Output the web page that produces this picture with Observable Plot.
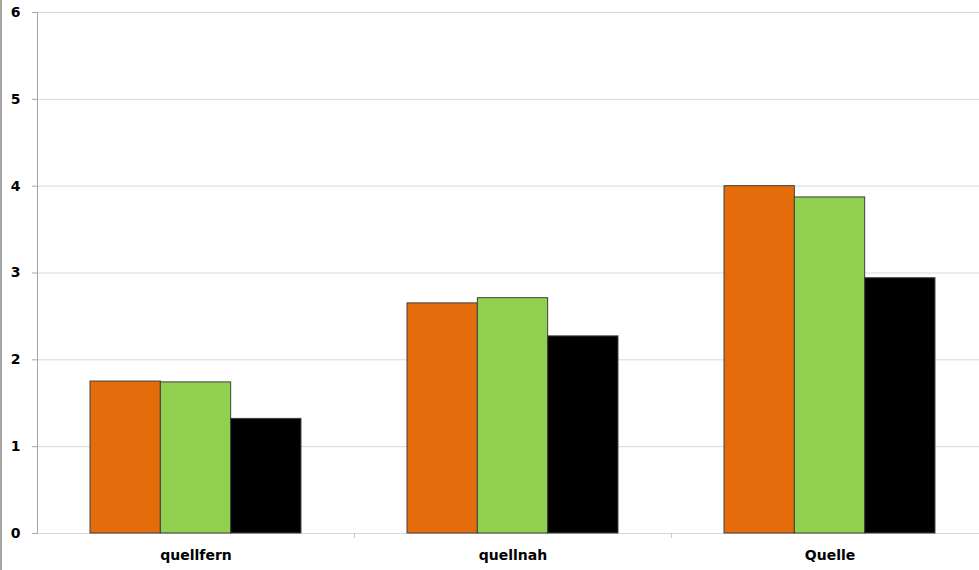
<!DOCTYPE html>
<html>
<head>
<meta charset="utf-8">
<script src="https://cdn.jsdelivr.net/npm/d3@7"></script>
<script src="https://cdn.jsdelivr.net/npm/@observablehq/plot@0.6"></script>
<style>
  html, body { margin: 0; padding: 0; background: #fff; overflow: hidden; }
  #chart { width: 977px; height: 570px; border-left: 2px solid #a6a6a6; overflow: hidden; }
  #chart svg { overflow: hidden; }
</style>
</head>
<body>
<div id="chart"></div>
<script>
// Groups along the x axis
const categories = ["quellfern", "quellnah", "Quelle"];
// Three series per group, drawn orange / green / black
const seriesKeys = ["A", "B", "C"];
const seriesColors = ["#E46C0A", "#92D050", "#000000"];
const valuesA = [1.75, 2.65, 4.00];
const valuesB = [1.74, 2.71, 3.87];
const valuesC = [1.32, 2.27, 2.94];
const yTicks = [0, 1, 2, 3, 4, 5, 6];

const seriesValues = [valuesA, valuesB, valuesC];
const data = categories.flatMap((category, i) =>
  seriesKeys.map((series, s) => ({category, series, value: seriesValues[s][i]}))
);

// Layout
const width = 977, height = 570;
const marginLeft = 35, marginTop = 12, marginBottom = 37;
const groupStep = 317; // width of one category band; the last band runs past the right edge
const fxRange = [marginLeft, marginLeft + groupStep * categories.length];
const font = "'DejaVu Sans', sans-serif";

const chart = Plot.plot({
  width, height,
  marginLeft, marginRight: 0, marginTop, marginBottom,
  style: {fontFamily: font, fontSize: "14px", fontWeight: 700, color: "#000", background: "#fff"},
  fx: {domain: categories, range: fxRange, padding: 0, round: false, label: null},
  x: {domain: seriesKeys, paddingInner: 0, paddingOuter: 0.754, round: false, axis: null},
  y: {domain: [0, 6], label: null},
  color: {domain: seriesKeys, range: seriesColors},
  marks: [
    Plot.gridY(yTicks, {stroke: "#d9d9d9", strokeOpacity: 1}),
    Plot.axisY(yTicks, {tickSize: 5, tickPadding: 12, tickFormat: d3.format("d"), stroke: "#a6a6a6", fill: "#000", fontWeight: 700, fontSize: 14, label: null}),
    Plot.frame({anchor: "left", facetAnchor: "left", stroke: "#a6a6a6"}),
    Plot.barY(data, {fx: "category", x: "series", y: "value", fill: "series", stroke: "#3f3f3f", strokeWidth: 1}),
    Plot.axisFx({anchor: "bottom", tickSize: 0, tickPadding: 17, fill: "#000", fontWeight: 700, fontSize: 14, label: null}),
    Plot.axisFx({anchor: "bottom", ticks: categories.slice(0, -1), text: null, tickSize: 5, dx: groupStep / 2, stroke: "#c8c8c8", label: null})
  ]
});
document.getElementById("chart").append(chart);
</script>
</body>
</html>
